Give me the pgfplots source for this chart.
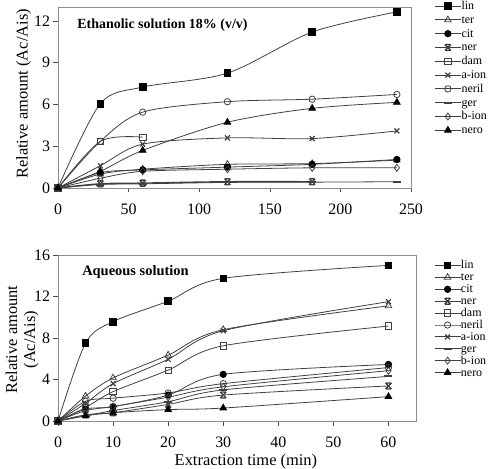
\documentclass[border=0pt]{standalone}
\usepackage{fontspec}
\setmainfont{Liberation Serif}
\usepackage{pgfplots}
\usepackage{pgfplotstable}
\pgfplotsset{compat=1.18}

\pgfdeclareplotmark{xbar}{%
  \pgfpathmoveto{\pgfqpoint{-\pgfplotmarksize}{\pgfplotmarksize}}%
  \pgfpathlineto{\pgfqpoint{\pgfplotmarksize}{-\pgfplotmarksize}}%
  \pgfpathmoveto{\pgfqpoint{\pgfplotmarksize}{\pgfplotmarksize}}%
  \pgfpathlineto{\pgfqpoint{-\pgfplotmarksize}{-\pgfplotmarksize}}%
  \pgfpathmoveto{\pgfqpoint{-0.8\pgfplotmarksize}{\pgfplotmarksize}}%
  \pgfpathlineto{\pgfqpoint{0.8\pgfplotmarksize}{\pgfplotmarksize}}%
  \pgfpathmoveto{\pgfqpoint{-0.8\pgfplotmarksize}{-\pgfplotmarksize}}%
  \pgfpathlineto{\pgfqpoint{0.8\pgfplotmarksize}{-\pgfplotmarksize}}%
  \pgfusepathqstroke}

\pgfplotstableread{
x   lin   ter  cit  ner  dam  aion neril ger  bion nero
0   0     0    0    0    0    0    0     0    0    0
30  6.05  1.0  1.1  0.3  3.35 1.6  3.35  0.25 0.7  1.2
60  7.25  1.35 1.3  0.35 3.65 3.15 5.45  0.3  1.2  2.7
120 8.25  1.7  1.5  0.45 nan  3.6  6.2   0.4  1.35 4.72
180 11.2  1.75 1.7  0.45 nan  3.55 6.38  0.42 1.45 5.72
240 12.65 2.0  2.05 nan  nan  4.1  6.72  0.45 1.45 6.15
}\ethtab

\pgfplotstableread{
x   lin   ter  cit  ner  dam  aion neril ger  bion nero
0   0     0    0    0    0    0    0     0    0    0
5   7.5   2.4  1.15 0.6  1.3  1.7  1.9   0.5  1.0  0.5
10  9.58  4.15 1.38 0.8  2.83 3.6  2.2   1.0  1.4  0.8
20  11.55 6.35 2.5  1.6  4.9  5.95 2.7   1.86 2.3  1.1
30  13.75 8.8  4.5  2.5  7.25 8.7  3.6   3.0  3.3  1.25
60  15.0  11.1 5.45 3.38 9.15 11.5 5.15  4.3  4.85 2.35
}\aqtab

\pgfplotsset{
  myaxis/.style={
    scale only axis,
    xmin=0, ymin=0,
    axis line style={black!45},
    tick style={black!70, line width=0.6pt},
    tick align=outside,
    xtick pos=bottom, ytick pos=left,
    major tick length=4.5bp,
    /pgf/number format/assume math mode=true,
    tick label style={font=\fontsize{16}{16}\selectfont},
    xticklabel style={yshift=-8bp},
    label style={font=\fontsize{16.5}{18}\selectfont},
    every axis plot/.append style={line width=0.8pt, black!75, smooth, tension=0.5,
      mark options={black, solid, line width=0.8pt}},
    legend style={draw=none, fill=none, font=\fontsize{12}{12}\selectfont,
      anchor=north west, row sep=0pt},
    legend cell align=left,
    legend image code/.code={\draw[mark repeat=2,mark phase=2] plot coordinates {(0bp,0bp)(13bp,0bp)(26bp,0bp)};},
  },
  plin/.style={mark=square*, mark size=3.3bp},
  pter/.style={mark=triangle, mark size=3.8bp, mark options={fill=white}},
  pcit/.style={mark=*, mark size=3.2bp},
  pner/.style={mark=xbar, mark size=3bp, mark options={line width=1.3pt}},
  pdam/.style={mark=square, mark size=3.2bp, mark options={fill=white}},
  paion/.style={mark=x, mark size=3.5bp, mark options={line width=1.2pt}},
  pneril/.style={mark=o, mark size=3.2bp, mark options={fill=white}},
  pger/.style={mark=-, mark size=4bp, mark options={line width=2pt}},
  pbion/.style={mark=diamond, mark size=3.5bp, mark options={fill=white}},
  pnero/.style={mark=triangle*, mark size=3.8bp},
}

\begin{document}
\begin{tikzpicture}
\begin{axis}[myaxis,
  at={(0bp,233bp)}, width=353bp, height=181bp,
  xmax=250, ymax=13,
  xtick={0,50,...,250}, ytick={0,3,...,12},
  ylabel={Relative amount (Ac/Ais)},
  ylabel style={at={(axis description cs:-0.097,0.52)}, anchor=center},
  legend style={at={(axis description cs:1,1)}, xshift=20bp, yshift=10bp, row sep=0pt,
    nodes={inner sep=0pt, text height=10.4bp, text depth=3.4bp}},
]
\addplot[plin] table[x=x,y=lin]{\ethtab}; \addlegendentry{lin}
\addplot[pter] table[x=x,y=ter]{\ethtab}; \addlegendentry{ter}
\addplot[pcit] table[x=x,y=cit]{\ethtab}; \addlegendentry{cit}
\addplot[pner, line width=1.4pt] table[x=x,y=ner]{\ethtab}; \addlegendentry{ner}
\addplot[pdam] table[x=x,y=dam]{\ethtab}; \addlegendentry{dam}
\addplot[paion] table[x=x,y=aion]{\ethtab}; \addlegendentry{a-ion}
\addplot[pneril] table[x=x,y=neril]{\ethtab}; \addlegendentry{neril}
\addplot[pger] table[x=x,y=ger]{\ethtab}; \addlegendentry{ger}
\addplot[pbion] table[x=x,y=bion]{\ethtab}; \addlegendentry{b-ion}
\addplot[pnero] table[x=x,y=nero]{\ethtab}; \addlegendentry{nero}
\node[anchor=west, font=\bfseries\fontsize{14}{14}\selectfont] at (axis description cs:0.045,0.9) {Ethanolic solution 18\% (v/v)};
\end{axis}

\begin{axis}[myaxis,
  at={(0bp,0bp)}, width=358bp, height=166bp,
  xmax=65, ymax=16,
  xtick={0,10,...,60}, ytick={0,4,...,16},
  ylabel={Relative amount\\(Ac/Ais)},
  ylabel style={at={(axis description cs:-0.1,0.49)}, anchor=center, align=center},
  xlabel={Extraction time (min)},
  xlabel style={at={(axis description cs:0.525,-0.245)}, anchor=center},
  legend style={at={(axis description cs:1,1)}, xshift=15bp, yshift=-2bp, row sep=-0.7bp,
    nodes={inner sep=0pt, text height=9.8bp, text depth=2.8bp}},
]
\addplot[plin] table[x=x,y=lin]{\aqtab}; \addlegendentry{lin}
\addplot[pter] table[x=x,y=ter]{\aqtab}; \addlegendentry{ter}
\addplot[pcit] table[x=x,y=cit]{\aqtab}; \addlegendentry{cit}
\addplot[pner] table[x=x,y=ner]{\aqtab}; \addlegendentry{ner}
\addplot[pdam] table[x=x,y=dam]{\aqtab}; \addlegendentry{dam}
\addplot[pneril] table[x=x,y=neril]{\aqtab}; \addlegendentry{neril}
\addplot[paion] table[x=x,y=aion]{\aqtab}; \addlegendentry{a-ion}
\addplot[pger] table[x=x,y=ger]{\aqtab}; \addlegendentry{ger}
\addplot[pbion] table[x=x,y=bion]{\aqtab}; \addlegendentry{b-ion}
\addplot[pnero] table[x=x,y=nero]{\aqtab}; \addlegendentry{nero}
\node[anchor=west, font=\bfseries\fontsize{14.5}{14.5}\selectfont] at (axis description cs:0.058,0.9) {Aqueous solution};
\end{axis}
\pgfresetboundingbox
\useasboundingbox (-58bp,-48bp) rectangle (435bp,421bp);
\end{tikzpicture}
\end{document}
